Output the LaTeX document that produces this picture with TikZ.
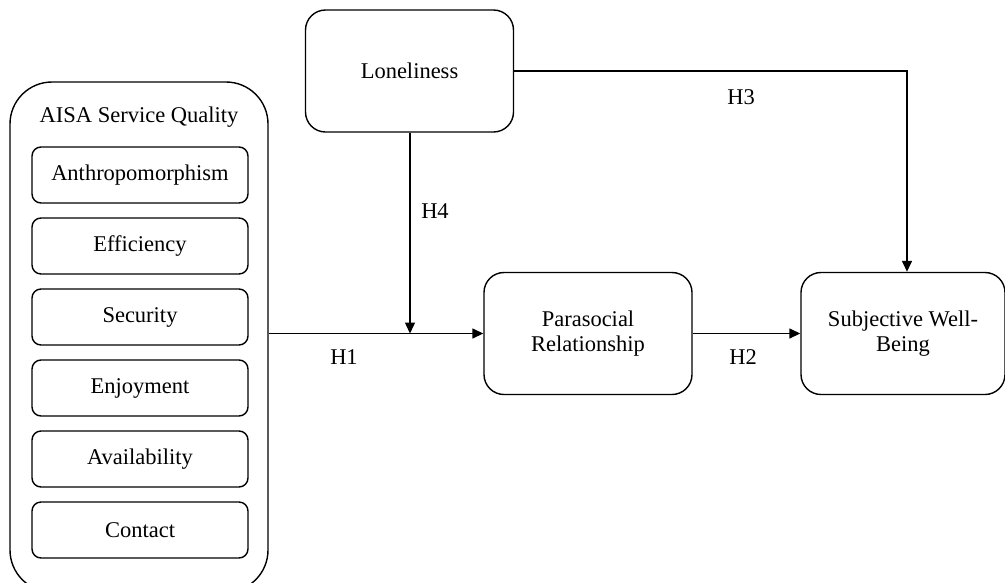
\documentclass[tikz,border=0pt]{standalone}
\usepackage{fontspec}
\setmainfont{Liberation Serif}
\usetikzlibrary{arrows.meta}
\begin{document}
\begin{tikzpicture}[x=1pt,y=-1pt,
  every node/.style={font=\fontsize{22.5}{25}\selectfont, inner sep=0pt},
  box/.style={draw, line width=1.4pt, rounded corners=#1, align=center},
  box/.default=20pt,
  item/.style={box=9pt, minimum width=216pt, minimum height=56pt},
  concept/.style={box=20pt, minimum width=208pt, minimum height=122pt},
  link/.style={line width=1.4pt, -{Triangle[length=11pt,width=10pt]}},
  lbl/.style={font=\fontsize{22.5}{25}\selectfont}
]
\useasboundingbox (0,0) rectangle (1005,582);
\clip (0,0) rectangle (1005,582);

% AISA service quality block with its six dimensions
\node[box=42pt, minimum width=258pt, minimum height=510pt] (aisa) at (139,337) {};
\node[lbl] (aisaT) at (139,117) {AISA Service Quality};
\node[item] (anth) at (140,175) {Anthropomorphism};
\node[item] (eff)  at (140,246) {Efficiency};
\node[item] (sec)  at (140,317) {Security};
\node[item] (enj)  at (140,388) {Enjoyment};
\node[item] (ava)  at (140,459) {Availability};
\node[item] (con)  at (140,530) {Contact};

% Constructs
\node[concept] (lon) at (409.5,71) {Loneliness};
\node[concept] (psr) at (588,333.5) {Parasocial\\Relationship};
\node[concept, minimum width=204pt] (swb) at (903,333.5) {Subjective Well-\\Being};

% Paths
\coordinate (mod) at (410,333.5);
\draw[line width=1.4pt] (aisa.east |- mod) -- (mod);
\draw[link] (mod) -- (psr.west);
\draw[link] (lon.south -| mod) -- (mod);
\draw[link] (psr.east) -- (swb.west);
\draw[link] (lon.east |- 0,71) -| (swb.north -| 907,0);

% Hypothesis labels
\node[lbl] (h1) at (344,357) {H1};
\node[lbl] (h2) at (743,357) {H2};
\node[lbl] (h3) at (741,97) {H3};
\node[lbl] (h4) at (435,211) {H4};
\end{tikzpicture}
\end{document}
